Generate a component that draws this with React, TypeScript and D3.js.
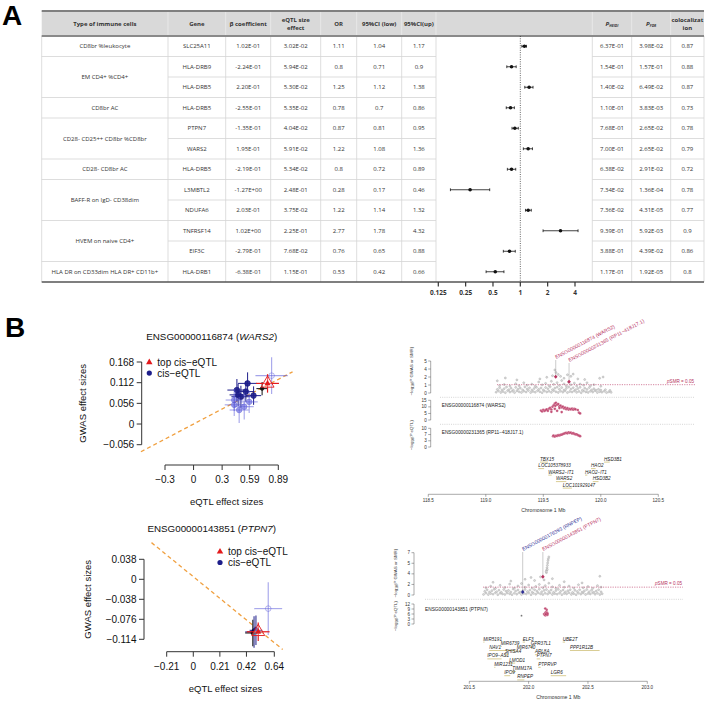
import React from "react";
import * as d3 from "d3";

// ---------- Panel A: SMR results table ----------
const cellTypes = [
  "CD8br %leukocyte",
  "EM CD4+ %CD4+",
  "CD8br AC",
  "CD28- CD25++ CD8br %CD8br",
  "CD28- CD8br AC",
  "BAFF-R on IgD- CD38dim",
  "HVEM on naive CD4+",
  "HLA DR on CD33dim HLA DR+ CD11b+",
];
const cellSpans = [1, 2, 1, 2, 1, 2, 2, 1];
const geneNames = ["SLC25A11", "HLA-DRB9", "HLA-DRB5", "HLA-DRB5", "PTPN7", "WARS2", "HLA-DRB5", "L3MBTL2", "NDUFA6", "TNFRSF14", "EIF3C", "HLA-DRB1"];
const betaCoef = ["1.02E-01", "-2.24E-01", "2.20E-01", "-2.55E-01", "-1.35E-01", "1.95E-01", "-2.19E-01", "-1.27E+00", "2.03E-01", "1.02E+00", "-2.79E-01", "-6.38E-01"];
const eqtlEffect = ["3.02E-02", "5.94E-02", "5.30E-02", "5.35E-02", "4.04E-02", "5.91E-02", "5.34E-02", "2.48E-01", "3.75E-02", "2.25E-01", "7.68E-02", "1.15E-01"];
const oddsRatio = [1.11, 0.8, 1.25, 0.78, 0.87, 1.22, 0.8, 0.28, 1.22, 2.77, 0.76, 0.53];
const ciLow = [1.04, 0.71, 1.12, 0.7, 0.81, 1.08, 0.72, 0.17, 1.14, 1.78, 0.65, 0.42];
const ciUp = [1.17, 0.9, 1.38, 0.86, 0.95, 1.36, 0.89, 0.46, 1.32, 4.32, 0.88, 0.66];
const pHeidi = ["6.37E-01", "1.54E-01", "1.40E-02", "1.10E-01", "7.68E-01", "7.00E-01", "6.38E-02", "7.34E-02", "7.36E-02", "9.39E-01", "3.88E-01", "1.17E-01"];
const pFdr = ["3.98E-02", "1.57E-01", "6.49E-02", "3.83E-03", "2.65E-02", "2.65E-02", "2.91E-02", "1.36E-04", "4.31E-05", "5.92E-03", "4.39E-02", "1.92E-05"];
const coloc = [0.87, 0.88, 0.87, 0.73, 0.78, 0.79, 0.72, 0.78, 0.77, 0.9, 0.86, 0.8];
const orTicks = [0.125, 0.25, 0.5, 1, 2, 4];

// ---------- Panel B left: effect size plots ----------
// [eQTL effect, GWAS effect, se x, se y, tone] tone: 0 navy, 1 light, 2 black, 3 hollow
const wars2Cis = [
  [0.455, 0.092, 0.1, 0.03, 0],
  [0.567, 0.11, 0.1, 0.03, 0],
  [0.549, 0.088, 0.09, 0.028, 0],
  [0.497, 0.074, 0.1, 0.03, 0],
  [0.63, 0.077, 0.08, 0.025, 0],
  [0.468, 0.079, 0.09, 0.03, 0],
  [0.427, 0.052, 0.1, 0.03, 1],
  [0.532, 0.047, 0.1, 0.035, 1],
  [0.584, 0.06, 0.09, 0.03, 1],
  [0.427, 0.065, 0.09, 0.03, 1],
  [0.479, 0.038, 0.1, 0.035, 1],
  [0.82, 0.131, 0.17, 0.05, 3],
  [0.72, 0.096, 0.06, 0.018, 2],
];
const wars2Top = [0.777, 0.11, 0.12, 0.025];
const ptpn7Cis = [
  [0.48, -0.1, 0.07, 0.03, 0],
  [0.495, -0.097, 0.05, 0.028, 0],
  [0.47, -0.102, 0.06, 0.025, 2],
  [0.592, -0.0557, 0.11, 0.05, 3],
];
const ptpn7Top = [0.513, -0.0997, 0.09, 0.0175];
const wars2XTicks = [-0.3, 0, 0.3, 0.59, 0.89];
const wars2YTicks = [-0.056, 0, 0.056, 0.112, 0.168];
const ptpn7XTicks = [-0.21, 0, 0.21, 0.42, 0.64];
const ptpn7YTicks = [-0.114, -0.076, -0.038, 0, 0.038];

// ---------- Panel B right: locus plots ----------
const wars2Gwas = [
  [119.09, 0.12], [119.11, 0.31], [119.13, 0.08], [119.15, 0.22], [119.17, 0.05], [119.19, 0.36], [119.21, 0.14], [119.23, 0.27], [119.25, 0.06], [119.27, 0.33],
  [119.29, 0.18], [119.31, 0.09], [119.33, 0.29], [119.35, 0.15], [119.37, 0.38], [119.39, 0.07], [119.41, 0.24], [119.43, 0.12], [119.45, 0.35], [119.47, 0.2],
  [119.49, 0.05], [119.51, 0.3], [119.53, 0.16], [119.55, 0.26], [119.57, 0.1], [119.59, 0.37], [119.61, 0.19], [119.63, 0.08], [119.65, 0.28], [119.67, 0.13],
  [119.69, 0.34], [119.71, 0.06], [119.73, 0.23], [119.75, 0.15], [119.77, 0.32], [119.79, 0.1], [119.81, 0.25], [119.83, 0.04], [119.85, 0.3], [119.87, 0.17],
  [119.89, 0.09], [119.91, 0.27], [119.93, 0.14], [119.95, 0.36], [119.97, 0.07], [119.99, 0.21], [120.01, 0.12], [120.03, 0.29], [120.05, 0.06], [120.07, 0.18], [120.09, 0.1],
  [119.1, 0.55], [119.12, 0.82], [119.14, 0.47], [119.16, 0.68], [119.18, 0.93], [119.2, 0.51], [119.22, 0.74], [119.24, 0.44], [119.26, 0.88], [119.28, 0.6],
  [119.3, 0.77], [119.32, 0.49], [119.34, 0.95], [119.36, 0.63], [119.38, 0.81], [119.4, 0.45], [119.42, 0.7], [119.44, 0.9], [119.46, 0.57], [119.48, 0.79],
  [119.5, 0.48], [119.52, 0.86], [119.54, 0.66], [119.56, 0.97], [119.58, 0.52], [119.6, 0.75], [119.62, 0.91], [119.64, 0.58], [119.66, 0.84], [119.68, 0.46],
  [119.7, 0.72], [119.72, 0.94], [119.74, 0.61], [119.76, 0.83], [119.78, 0.5], [119.8, 0.69], [119.82, 0.89], [119.84, 0.43], [119.86, 0.76], [119.88, 0.56],
  [119.9, 0.85], [119.92, 0.48], [119.94, 0.67], [119.96, 0.42], [119.98, 0.58], [120.0, 0.45], [120.04, 0.52], [120.08, 0.41],
  [119.12, 1.15], [119.16, 1.32], [119.21, 1.08], [119.26, 1.45], [119.29, 1.12], [119.33, 1.6], [119.36, 1.21], [119.4, 1.38], [119.43, 1.05], [119.46, 1.72],
  [119.49, 1.27], [119.52, 1.5], [119.55, 1.14], [119.57, 1.83], [119.59, 1.35], [119.62, 1.62], [119.64, 1.18], [119.66, 1.95], [119.68, 1.42], [119.7, 1.1],
  [119.72, 1.68], [119.74, 1.29], [119.77, 1.54], [119.79, 1.09], [119.82, 1.4], [119.85, 1.22], [119.88, 1.6], [119.91, 1.13], [119.94, 1.3], [120.0, 1.05],
  [119.1, 1.9], [119.17, 2.35], [119.27, 2.05], [119.47, 2.2], [119.53, 2.45], [119.58, 2.7], [119.6, 3.6], [119.61, 3.2], [119.63, 2.9], [119.65, 2.6],
  [119.68, 2.3], [119.71, 2.85], [119.74, 2.6], [119.76, 2.95], [119.8, 2.2], [119.86, 2.1], [119.99, 2.3], [120.02, 2.5],
];
const wars2Eqtl = [
  [119.48, 7.2], [119.49, 6.5], [119.5, 7.8], [119.51, 6.9], [119.52, 7.5], [119.53, 8.1], [119.54, 7.0], [119.55, 8.6], [119.56, 9.2], [119.57, 8.0],
  [119.58, 10.1], [119.59, 11.2], [119.6, 12.4], [119.605, 10.8], [119.61, 13.1], [119.62, 11.6], [119.63, 12.2], [119.64, 10.4], [119.65, 11.0], [119.66, 9.6],
  [119.67, 10.2], [119.68, 8.8], [119.69, 9.4], [119.7, 8.2], [119.71, 9.0], [119.72, 7.9], [119.73, 8.5], [119.74, 8.0], [119.75, 8.7], [119.76, 7.8],
  [119.77, 8.4], [119.78, 8.1], [119.8, 7.6], [119.81, 5.6], [119.82, 5.0], [119.57, 6.2], [119.62, 7.0], [119.66, 6.0], [119.6, 8.5], [119.64, 9.1],
];
const rp11Eqtl = [
  [119.585, 5.8], [119.59, 6.1], [119.6, 5.6], [119.61, 6.0], [119.62, 5.9], [119.63, 6.3], [119.64, 6.2], [119.65, 6.5], [119.66, 6.6], [119.67, 6.9],
  [119.68, 7.1], [119.69, 7.4], [119.7, 7.6], [119.71, 7.3], [119.72, 7.8], [119.73, 7.5], [119.74, 7.7], [119.75, 7.2], [119.76, 7.4], [119.77, 7.0],
  [119.78, 6.8], [119.79, 6.7], [119.8, 6.4], [119.81, 6.1], [119.82, 5.8],
];
const ptpn7Gwas = [
  [201.62, 0.1], [201.64, 0.32], [201.66, 0.07], [201.68, 0.25], [201.7, 0.14], [201.72, 0.37], [201.74, 0.05], [201.76, 0.28], [201.78, 0.17], [201.8, 0.09],
  [201.82, 0.34], [201.84, 0.2], [201.86, 0.06], [201.88, 0.3], [201.9, 0.13], [201.92, 0.38], [201.94, 0.08], [201.96, 0.24], [201.98, 0.16], [202.0, 0.33],
  [202.02, 0.05], [202.04, 0.27], [202.06, 0.12], [202.08, 0.36], [202.1, 0.19], [202.12, 0.07], [202.14, 0.29], [202.16, 0.15], [202.18, 0.35], [202.2, 0.09],
  [202.22, 0.23], [202.24, 0.13], [202.26, 0.31], [202.28, 0.06], [202.3, 0.26], [202.32, 0.18], [202.34, 0.38], [202.36, 0.1], [202.38, 0.22], [202.4, 0.05],
  [202.42, 0.3], [202.44, 0.14], [202.46, 0.34], [202.48, 0.08], [202.5, 0.25], [202.52, 0.17], [202.54, 0.36], [202.56, 0.11], [202.58, 0.28], [202.6, 0.07], [202.62, 0.2],
  [201.63, 0.6], [201.65, 0.85], [201.67, 0.48], [201.69, 0.72], [201.71, 0.95], [201.73, 0.54], [201.75, 0.79], [201.77, 0.44], [201.79, 0.9], [201.81, 0.62],
  [201.83, 0.75], [201.85, 0.5], [201.87, 0.98], [201.89, 0.66], [201.91, 0.83], [201.93, 0.46], [201.95, 0.71], [201.97, 0.92], [201.99, 0.56], [202.01, 0.8],
  [202.03, 0.47], [202.05, 0.87], [202.07, 0.64], [202.09, 0.96], [202.11, 0.53], [202.13, 0.76], [202.15, 0.9], [202.17, 0.58], [202.19, 0.84], [202.21, 0.45],
  [202.23, 0.73], [202.25, 0.94], [202.27, 0.6], [202.29, 0.82], [202.31, 0.5], [202.33, 0.7], [202.35, 0.88], [202.37, 0.43], [202.39, 0.77], [202.41, 0.57],
  [202.43, 0.86], [202.45, 0.49], [202.47, 0.68], [202.49, 0.91], [202.51, 0.55], [202.53, 0.78], [202.55, 0.46], [202.57, 0.65], [202.59, 0.88], [202.61, 0.52],
  [201.64, 1.2], [201.68, 1.45], [201.72, 1.1], [201.76, 1.6], [201.8, 1.25], [201.84, 1.8], [201.88, 1.15], [201.91, 1.5], [201.94, 1.9], [201.97, 1.3],
  [202.0, 1.65], [202.03, 1.12], [202.06, 1.42], [202.09, 1.75], [202.12, 1.22], [202.14, 1.55], [202.17, 1.95], [202.2, 1.35], [202.23, 1.1], [202.26, 1.6],
  [202.3, 1.28], [202.34, 1.48], [202.38, 1.15], [202.42, 1.7], [202.46, 1.2], [202.5, 1.4], [202.54, 1.1], [202.58, 1.55], [202.61, 1.3],
  [201.7, 2.1], [201.85, 2.3], [201.97, 2.6], [202.02, 2.9], [202.05, 2.4], [202.1, 3.0], [202.13, 2.5], [202.2, 2.7], [202.3, 2.2], [202.45, 2.0], [202.6, 3.1],
  [202.15, 3.7], [202.152, 4.1], [202.155, 4.5], [202.158, 4.9], [202.16, 5.3], [202.163, 5.7], [202.166, 6.0], [202.17, 6.3], [202.148, 3.9], [202.157, 4.2],
];
const ptpn7Eqtl = [
  [202.13, 6.0], [202.135, 5.5], [202.14, 6.5], [202.142, 5.2], [202.145, 7.0], [202.148, 6.2], [202.15, 5.8], [202.152, 8.5], [202.155, 6.8], [202.158, 5.4],
  [202.16, 6.1], [202.14, 9.3], [202.145, 5.9],
];
const ptpn7EqtlOther = [[201.94, 5.0]];

// [name, start Mb, length Mb, row]
const wars2Genes = [
  ["TBX15", 119.471, 0.07, 0], ["LOC105378933", 119.457, 0.05, 1], ["WARS2−IT1", 119.543, 0.03, 2], ["WARS2", 119.61, 0.09, 3],
  ["LOC101929147", 119.669, 0.08, 4], ["HSD3B1", 120.028, 0.05, 0], ["HAO2", 119.915, 0.04, 1], ["HAO2−IT1", 119.863, 0.02, 2], ["HSD3B2", 119.93, 0.05, 3],
];
const ptpn7Genes = [
  ["MIR5191", 201.618, 0.01, 0], ["ELF3", 201.95, 0.02, 0], ["UBE2T", 202.287, 0.02, 0], ["MIR6739", 201.765, 0.01, 1], ["GPR37L1", 202.017, 0.02, 1],
  ["MIR6740", 201.9, 0.01, 2], ["NAV1", 201.668, 0.22, 2], ["PPP1R12B", 202.348, 0.25, 2], ["SHISA4", 201.8, 0.03, 3], ["ARL8A", 202.053, 0.02, 3],
  ["PTPN7", 202.068, 0.03, 4], ["IPO9−AS1", 201.652, 0.12, 4], ["LMOD1", 201.837, 0.05, 5], ["MIR1231", 201.71, 0.01, 6], ["PTPRVP", 202.081, 0.02, 6],
  ["TIMM17A", 201.862, 0.03, 7], ["IPO9", 201.795, 0.05, 8], ["LGR6", 202.186, 0.13, 8], ["RNPEP", 201.904, 0.06, 9],
];
const wars2ChrTicks = [118.5, 119.0, 119.5, 120.0, 120.5];
const ptpn7ChrTicks = [201.5, 202.0, 202.5, 203.0];

const SANS = "'Liberation Sans', Arial, sans-serif";
const TFONT = "'Open Sans', 'Noto Sans', sans-serif";
const NAVY = "#1d1d8a";
const MAROON = "#b8335f";

// ---------- table ----------
const colX = [41.7, 168, 225.7, 270.7, 320.7, 356.7, 401.7, 436, 592.3, 631.7, 670.7, 704];
const T_TOP = 11;
const H_BOT = 36;
const ROW_H = 20.5;

function TableA() {
  const n = geneNames.length;
  const rowTop = (i: number) => H_BOT + i * ROW_H;
  const rowMid = (i: number) => rowTop(i) + ROW_H / 2;
  const mid = (c: number) => (colX[c] + colX[c + 1]) / 2;
  const orX = d3.scaleLog().base(2).domain([0.125, 4]).range([438.3, 575]);
  const starts = Array.from(d3.cumsum([0, ...cellSpans]));
  const bottom = rowTop(n);
  const line = "#d4d4d4";

  const bodyCols: [number, (i: number) => string][] = [
    [1, (i) => geneNames[i]],
    [2, (i) => betaCoef[i]],
    [3, (i) => eqtlEffect[i]],
    [4, (i) => String(oddsRatio[i])],
    [5, (i) => String(ciLow[i])],
    [6, (i) => String(ciUp[i])],
    [8, (i) => pHeidi[i]],
    [9, (i) => pFdr[i]],
    [10, (i) => String(coloc[i])],
  ];

  const hCenter = (T_TOP + H_BOT) / 2;
  return (
    <g fontFamily={TFONT} fill="#333">
      <rect x={colX[0]} y={T_TOP} width={colX[11] - colX[0]} height={H_BOT - T_TOP} fill="#d9d9d9" />
      {/* header separators */}
      {colX.slice(1, -1).map((cx, i) => (
        <line key={"hv" + i} x1={cx} x2={cx} y1={T_TOP} y2={H_BOT} stroke="#ececec" strokeWidth={0.8} />
      ))}
      {/* body verticals */}
      {colX.map((cx, i) => (
        <line key={"bv" + i} x1={cx} x2={cx} y1={H_BOT} y2={bottom} stroke={line} strokeWidth={0.8} />
      ))}
      {/* row lines */}
      {d3.range(1, n).map((i) => {
        const y = rowTop(i);
        const grp = starts.includes(i);
        return (
          <g key={"rl" + i} stroke={line} strokeWidth={0.8}>
            {grp && <line x1={colX[0]} x2={colX[1]} y1={y} y2={y} />}
            <line x1={colX[1]} x2={colX[7]} y1={y} y2={y} />
            <line x1={colX[8]} x2={colX[11]} y1={y} y2={y} />
          </g>
        );
      })}
      <line x1={colX[0]} x2={colX[11]} y1={T_TOP} y2={T_TOP} stroke="#808080" strokeWidth={2} />
      <line x1={colX[0]} x2={colX[11]} y1={H_BOT} y2={H_BOT} stroke="#8a8a8a" strokeWidth={2} />
      <line x1={colX[0]} x2={colX[11]} y1={bottom} y2={bottom} stroke="#555" strokeWidth={1.6} />

      {/* header text */}
      <g fontWeight="bold" fontSize={6} textAnchor="middle">
        <text x={mid(0)} y={hCenter} dy="0.35em">Type of immune cells</text>
        <text x={mid(1)} y={hCenter} dy="0.35em">Gene</text>
        <text x={mid(2)} y={hCenter} dy="0.35em">β coefficient</text>
        <text x={mid(3)} y={hCenter - 4} dy="0.35em">eQTL size</text>
        <text x={mid(3)} y={hCenter + 4} dy="0.35em">effect</text>
        <text x={mid(4)} y={hCenter} dy="0.35em">OR</text>
        <text x={mid(5)} y={hCenter} dy="0.35em">95%CI (low)</text>
        <text x={mid(6)} y={hCenter} dy="0.35em">95%CI(up)</text>
        <text x={mid(8)} y={hCenter} dy="0.35em" fontStyle="italic">
          P<tspan fontSize={3.6} dy="1.5">HEIDI</tspan>
        </text>
        <text x={mid(9)} y={hCenter} dy="0.35em" fontStyle="italic">
          P<tspan fontSize={3.6} dy="1.5">FDR</tspan>
        </text>
        <text x={mid(10)} y={hCenter - 4} dy="0.35em">colocalizat</text>
        <text x={mid(10)} y={hCenter + 4} dy="0.35em">ion</text>
      </g>

      {/* body text */}
      <g fontSize={6} textAnchor="middle">
        {cellTypes.map((c, k) => {
          const y = (rowTop(starts[k]) + rowTop(starts[k] + cellSpans[k])) / 2;
          return (
            <text key={"ct" + k} x={mid(0)} y={y} dy="0.35em">{c}</text>
          );
        })}
        {d3.range(n).map((i) =>
          bodyCols.map(([c, f]) => (
            <text key={"c" + i + "-" + c} x={mid(c)} y={rowMid(i)} dy="0.35em">{f(i)}</text>
          ))
        )}
      </g>

      {/* forest plot */}
      <line x1={orX(1)} x2={orX(1)} y1={H_BOT} y2={bottom} stroke="#222" strokeWidth={0.7} strokeDasharray="1,1.3" />
      {d3.range(n).map((i) => {
        const y = rowMid(i);
        return (
          <g key={"f" + i} stroke="#111" strokeWidth={0.8}>
            <line x1={orX(ciLow[i])} x2={orX(ciUp[i])} y1={y} y2={y} />
            <line x1={orX(ciLow[i])} x2={orX(ciLow[i])} y1={y - 1.4} y2={y + 1.4} />
            <line x1={orX(ciUp[i])} x2={orX(ciUp[i])} y1={y - 1.4} y2={y + 1.4} />
            <circle cx={orX(oddsRatio[i])} cy={y} r={1.8} fill="#111" stroke="none" />
          </g>
        );
      })}
      {orTicks.map((t) => (
        <g key={"ot" + t}>
          <line x1={orX(t)} x2={orX(t)} y1={bottom} y2={bottom + 4.5} stroke="#333" strokeWidth={1.2} />
          <text x={orX(t)} y={bottom + 12.5} fontSize={6.5} fontWeight="bold" textAnchor="middle" fill="#333">
            {String(t)}
          </text>
        </g>
      ))}
    </g>
  );
}

// ---------- effect plot ----------
type EffCfg = {
  ensg: string;
  gene: string;
  xTicks: number[];
  yTicks: number[];
  xPx: [number, number];
  yPx: [number, number];
  axisX: number;
  axisY: number;
  lineX: [number, number];
  slope: number;
  intercept: number;
  cis: number[][];
  top: number[];
  legend: [number, number];
  titleY: number;
  xTitleY: number;
  yTitleX: number;
};

function tri(cx: number, cy: number, s: number) {
  const h = (s * Math.sqrt(3)) / 2;
  return `M${cx},${cy - (2 * h) / 3}L${cx + s / 2},${cy + h / 3}L${cx - s / 2},${cy + h / 3}Z`;
}

function EffectPlot({ cfg }: { cfg: EffCfg }) {
  const x = d3.scaleLinear().domain([cfg.xTicks[0], cfg.xTicks[cfg.xTicks.length - 1]]).range(cfg.xPx);
  const y = d3.scaleLinear().domain([cfg.yTicks[0], cfg.yTicks[cfg.yTicks.length - 1]]).range(cfg.yPx);
  const [lx0, lx1] = cfg.lineX;
  const fmt = (v: number) => (v < 0 ? "−" + String(-v) : String(v));
  const [tx, ty, tsx, tsy] = cfg.top;
  const yMid = (cfg.yPx[0] + cfg.yPx[1]) / 2;
  const xMid = (cfg.xPx[0] + cfg.xPx[1]) / 2;
  return (
    <g fontFamily={SANS} fill="#111">
      <text x={211.7} y={cfg.titleY} fontSize={9.8} textAnchor="middle">
        {cfg.ensg} (<tspan fontStyle="italic">{cfg.gene}</tspan>)
      </text>
      {/* y axis */}
      <line x1={cfg.axisX} x2={cfg.axisX} y1={y(cfg.yTicks[0])} y2={y(cfg.yTicks[cfg.yTicks.length - 1])} stroke="#333" />
      {cfg.yTicks.map((t) => (
        <g key={"y" + t}>
          <line x1={cfg.axisX - 5} x2={cfg.axisX} y1={y(t)} y2={y(t)} stroke="#333" />
          <text x={cfg.axisX - 7.5} y={y(t)} dy="0.35em" fontSize={10} textAnchor="end">{fmt(t)}</text>
        </g>
      ))}
      <text transform={`translate(${cfg.yTitleX},${yMid}) rotate(-90)`} fontSize={9.5} textAnchor="middle" dy="0.35em">
        GWAS effect sizes
      </text>
      {/* x axis */}
      <line x1={x(cfg.xTicks[0])} x2={x(cfg.xTicks[cfg.xTicks.length - 1])} y1={cfg.axisY} y2={cfg.axisY} stroke="#333" />
      {cfg.xTicks.map((t) => (
        <g key={"x" + t}>
          <line x1={x(t)} x2={x(t)} y1={cfg.axisY} y2={cfg.axisY + 5} stroke="#333" />
          <text x={x(t)} y={cfg.axisY + 18} fontSize={10} textAnchor="middle">{fmt(t)}</text>
        </g>
      ))}
      <text x={xMid + 5} y={cfg.xTitleY} fontSize={9.5} textAnchor="middle">eQTL effect sizes</text>
      {/* reference line */}
      <line
        x1={x(lx0)} y1={y(cfg.intercept + cfg.slope * lx0)}
        x2={x(lx1)} y2={y(cfg.intercept + cfg.slope * lx1)}
        stroke="#f0a040" strokeWidth={1.3} strokeDasharray="4,3"
      />
      {/* cis eQTL */}
      {cfg.cis.map(([cx, cy, sx, sy, tone], i) => {
        const col = tone === 2 ? "#111" : tone === 0 ? NAVY : "#5a5ad8";
        const op = tone === 1 || tone === 3 ? 0.55 : 0.9;
        return (
          <g key={"c" + i} stroke={col} strokeOpacity={op}>
            <line x1={x(cx - sx)} x2={x(cx + sx)} y1={y(cy)} y2={y(cy)} strokeWidth={1.1} />
            <line x1={x(cx)} x2={x(cx)} y1={y(cy - sy)} y2={y(cy + sy)} strokeWidth={1.1} />
            <circle cx={x(cx)} cy={y(cy)} r={tone === 2 ? 1.8 : 2.8}
              fill={tone === 3 ? "none" : col} fillOpacity={op} strokeWidth={0.8} />
          </g>
        );
      })}
      {/* top cis eQTL */}
      <g stroke="#e31a1c">
        <line x1={x(tx - tsx)} x2={x(tx + tsx)} y1={y(ty)} y2={y(ty)} strokeWidth={1.2} />
        <line x1={x(tx)} x2={x(tx)} y1={y(ty - tsy)} y2={y(ty + tsy)} strokeWidth={1.2} />
        <path d={tri(x(tx), y(ty), 13)} fill="#fff" fillOpacity={0.35} strokeWidth={0.9} />
        <path d={tri(x(tx), y(ty), 6)} fill="#e31a1c" stroke="none" />
      </g>
      {/* legend */}
      <path d={tri(cfg.legend[0], cfg.legend[1], 6.5)} fill="#e31a1c" />
      <text x={cfg.legend[0] + 8} y={cfg.legend[1]} dy="0.35em" fontSize={10}>top cis−eQTL</text>
      <circle cx={cfg.legend[0]} cy={cfg.legend[1] + 10.8} r={2.6} fill={NAVY} />
      <text x={cfg.legend[0] + 8} y={cfg.legend[1] + 10.8} dy="0.35em" fontSize={10}>cis−eQTL</text>
    </g>
  );
}

// ---------- locus plot ----------
type EqtlTrack = { ymax: number; labels: string[]; px: [number, number]; name: string; labelY: number; pts: number[][]; other?: number[][] };
type Probe = { mb: number; p: number; name: string; color: string; top: number };
type LocusCfg = {
  domain: [number, number];
  range: [number, number];
  axisX: number;
  gwasMax: number;
  gwasLabels: string[];
  gwasPx: [number, number];
  gwas: number[][];
  threshold: number;
  thrX: [number, number];
  sepX: [number, number];
  seps: number[];
  tracks: EqtlTrack[];
  labelX: number;
  probes: Probe[];
  genes: (string | number)[][];
  geneY0: number;
  geneStep: number;
  chrY: number;
  chrTicks: number[];
  titleX: number;
  gwasTitleY: number;
  eqtlTitleY: number;
};

function YAxisSmall({ x, scale, max, labels }: { x: number; scale: any; max: number; labels: string[] }) {
  const pos = labels.map((_, i) => (i * max) / (labels.length - 1));
  return (
    <g>
      <line x1={x} x2={x} y1={scale(0)} y2={scale(max)} stroke="#555" strokeWidth={0.5} />
      {pos.map((v, i) => (
        <g key={i}>
          <line x1={x - 2.5} x2={x} y1={scale(v)} y2={scale(v)} stroke="#555" strokeWidth={0.5} />
          <text x={x - 4} y={scale(v)} dy="0.35em" fontSize={4.6} textAnchor="end">{labels[i]}</text>
        </g>
      ))}
    </g>
  );
}

function LocusPlot({ cfg }: { cfg: LocusCfg }) {
  const x = d3.scaleLinear().domain(cfg.domain).range(cfg.range);
  const yG = d3.scaleLinear().domain([0, cfg.gwasMax]).range(cfg.gwasPx);
  const tY = yG(cfg.threshold);
  return (
    <g fontFamily={SANS} fill="#333">
      <YAxisSmall x={cfg.axisX} scale={yG} max={cfg.gwasMax} labels={cfg.gwasLabels} />
      <text transform={`translate(${cfg.titleX},${cfg.gwasTitleY}) rotate(-90)`} fontSize={4.4} textAnchor="middle">
        −log<tspan fontSize={3.2} dy="1">10</tspan><tspan dy="-1" fontStyle="italic">(P</tspan> GWAS or SMR)
      </text>
      <text transform={`translate(${cfg.titleX},${cfg.eqtlTitleY}) rotate(-90)`} fontSize={4.4} textAnchor="middle">
        −log<tspan fontSize={3.2} dy="1">10</tspan><tspan dy="-1" fontStyle="italic">(P</tspan> eQTL)
      </text>
      {cfg.gwas.map(([m, v], i) => (
        <circle key={"g" + i} cx={x(m)} cy={yG(v)} r={1} fill="#dcdcdc" stroke="#9c9c9c" strokeWidth={0.4} />
      ))}
      <line x1={cfg.thrX[0]} x2={cfg.thrX[1]} y1={tY} y2={tY} stroke={MAROON} strokeWidth={0.6} strokeDasharray="1.2,1.2" />
      <text x={cfg.thrX[1] - 1} y={tY - 2} fontSize={4.6} fill={MAROON} textAnchor="end">
        <tspan fontStyle="italic">p</tspan>SMR = 0.05
      </text>
      {cfg.seps.map((s) => (
        <line key={"s" + s} x1={cfg.sepX[0]} x2={cfg.sepX[1]} y1={s} y2={s} stroke="#aaa" strokeWidth={0.5} strokeDasharray="1,1.2" />
      ))}
      {cfg.probes.map((p) => (
        <g key={p.name}>
          <line x1={x(p.mb)} x2={x(p.mb)} y1={p.top} y2={yG(p.p)} stroke="#999" strokeWidth={0.5} />
          <path d={`M${x(p.mb)},${yG(p.p) - 2}l1.8,2l-1.8,2l-1.8,-2Z`} fill={p.color} />
          <text transform={`translate(${x(p.mb) + 0.5},${p.top - 1}) rotate(-28)`} fontSize={5} fill={p.color}>
            {p.name}
          </text>
        </g>
      ))}
      {cfg.tracks.map((t) => {
        const yE = d3.scaleLinear().domain([0, t.ymax]).range(t.px);
        return (
          <g key={t.name}>
            <YAxisSmall x={cfg.axisX} scale={yE} max={t.ymax} labels={t.labels} />
            <text x={cfg.labelX} y={t.labelY} dy="0.35em" fontSize={4.8} fill="#222">{t.name}</text>
            {(t.other || []).map(([m, v], i) => (
              <circle key={"o" + i} cx={x(m)} cy={yE(v)} r={0.9} fill="#777" />
            ))}
            {t.pts.map(([m, v], i) => (
              <circle key={"e" + i} cx={x(m)} cy={yE(v)} r={1.35} fill={MAROON} fillOpacity={0.85} stroke="#fff" strokeWidth={0.2} />
            ))}
          </g>
        );
      })}
      {cfg.genes.map(([name, start, len, row]) => {
        const gy = cfg.geneY0 + (row as number) * cfg.geneStep;
        return (
          <g key={name as string}>
            <line x1={x(start as number)} x2={x((start as number) + (len as number))} y1={gy + 1.6} y2={gy + 1.6} stroke="#cfc07a" strokeWidth={0.8} />
            <text x={x(start as number)} y={gy} fontSize={4.6} fontStyle="italic" fill="#222">{name}</text>
          </g>
        );
      })}
      <line x1={x(cfg.chrTicks[0])} x2={x(cfg.chrTicks[cfg.chrTicks.length - 1])} y1={cfg.chrY} y2={cfg.chrY} stroke="#555" strokeWidth={0.5} />
      {cfg.chrTicks.map((t) => (
        <g key={"ct" + t}>
          <line x1={x(t)} x2={x(t)} y1={cfg.chrY} y2={cfg.chrY + 2.5} stroke="#555" strokeWidth={0.5} />
          <text x={x(t)} y={cfg.chrY + 8} fontSize={4.6} textAnchor="middle">{d3.format(".1f")(t)}</text>
        </g>
      ))}
      <text x={(cfg.range[0] + cfg.range[1]) / 2} y={cfg.chrY + 17.5} fontSize={5.2} textAnchor="middle">
        Chromosome 1 Mb
      </text>
    </g>
  );
}

const wars2Cfg: EffCfg = {
  ensg: "ENSG00000116874", gene: "WARS2",
  xTicks: wars2XTicks, yTicks: wars2YTicks,
  xPx: [165, 278.3], yPx: [444.7, 362],
  axisX: 141.7, axisY: 465,
  lineX: [-0.553, 1.04], slope: 0.136, intercept: 0,
  cis: wars2Cis, top: wars2Top,
  legend: [149.3, 362.3], titleY: 340, xTitleY: 505, yTitleX: 82.7,
};
const ptpn7Cfg: EffCfg = {
  ensg: "ENSG00000143851", gene: "PTPN7",
  xTicks: ptpn7XTicks, yTicks: ptpn7YTicks,
  xPx: [166.7, 274.3], yPx: [639.3, 559.3],
  axisX: 144, axisY: 651.7,
  lineX: [-0.33, 0.706], slope: -0.196, intercept: 0.005,
  cis: ptpn7Cis, top: ptpn7Top,
  legend: [220, 551.7], titleY: 532, xTitleY: 692, yTitleX: 87.7,
};

const wars2Locus: LocusCfg = {
  domain: [118.5, 120.5], range: [428.3, 658.3], axisX: 430.7,
  gwasMax: 5, gwasLabels: ["0", "1", "2", "4", "5"], gwasPx: [393, 361], gwas: wars2Gwas,
  threshold: 1.3, thrX: [497, 695], sepX: [440, 695], seps: [397.3, 424.3],
  tracks: [
    { ymax: 15, labels: ["0", "5", "10", "15"], px: [420, 400.3], name: "ENSG00000116874 (WARS2)", labelY: 405.5, pts: wars2Eqtl },
    { ymax: 10, labels: ["0", "3", "7", "10"], px: [447, 428.3], name: "ENSG00000231365 (RP11−418J17.1)", labelY: 432.5, pts: rp11Eqtl },
  ],
  labelX: 441.7,
  probes: [
    { mb: 119.608, p: 2.55, name: "ENSG00000116874 (WARS2)", color: MAROON, top: 360 },
    { mb: 119.724, p: 1.77, name: "ENSG00000231365 (RP11−418J17.1)", color: MAROON, top: 363 },
  ],
  genes: wars2Genes, geneY0: 460.5, geneStep: 6.5,
  chrY: 494.3, chrTicks: wars2ChrTicks, titleX: 413.3, gwasTitleY: 371, eqtlTitleY: 435,
};
const ptpn7Locus: LocusCfg = {
  domain: [201.5, 203.0], range: [469.3, 647.3], axisX: 414,
  gwasMax: 7, gwasLabels: ["0", "2", "4", "5", "7"], gwasPx: [595, 552.7], gwas: ptpn7Gwas,
  threshold: 1.3, thrX: [483, 683], sepX: [425, 683], seps: [599.3],
  tracks: [
    { ymax: 12, labels: ["0", "3", "6", "9", "12"], px: [624, 604], name: "ENSG00000143851 (PTPN7)", labelY: 609.5, pts: ptpn7Eqtl, other: ptpn7EqtlOther },
  ],
  labelX: 425,
  probes: [
    { mb: 201.95, p: 0.5, name: "ENSG00000176393 (RNPEP)", color: "#2e2e94", top: 552 },
    { mb: 202.12, p: 3.03, name: "ENSG00000143851 (PTPN7)", color: MAROON, top: 552 },
  ],
  genes: ptpn7Genes, geneY0: 640.5, geneStep: 4.2,
  chrY: 681.3, chrTicks: ptpn7ChrTicks, titleX: 396.6, gwasTitleY: 573, eqtlTitleY: 616,
};

export default function App() {
  return (
    <svg width={709} height={702} style={{ position: "absolute", left: 0, top: 0, background: "#fff" }}>
      <text x={2} y={25} fontFamily={SANS} fontWeight="bold" fontSize={28}>A</text>
      <TableA />
      <text x={5} y={337} fontFamily={SANS} fontWeight="bold" fontSize={28}>B</text>
      <EffectPlot cfg={wars2Cfg} />
      <EffectPlot cfg={ptpn7Cfg} />
      <LocusPlot cfg={wars2Locus} />
      <LocusPlot cfg={ptpn7Locus} />
    </svg>
  );
}
